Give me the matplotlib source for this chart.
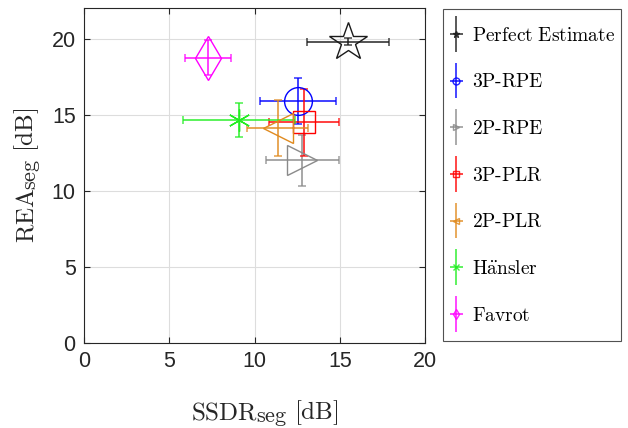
import matplotlib
matplotlib.use("Agg")
import matplotlib.pyplot as plt
from matplotlib.legend_handler import HandlerErrorbar

# Segmental SSDR / REA results per method (mean and standard deviation, dB)
methods = ["Perfect Estimate", "3P-RPE", "2P-RPE", "3P-PLR", "2P-PLR", "Hänsler", "Favrot"]
labels = [r"$\mathrm{Perfect\ Estimate}$", r"$\mathrm{3P}\text{-}\mathrm{RPE}$",
          r"$\mathrm{2P}\text{-}\mathrm{RPE}$", r"$\mathrm{3P}\text{-}\mathrm{PLR}$",
          r"$\mathrm{2P}\text{-}\mathrm{PLR}$", r"$\mathrm{H\ddot{a}nsler}$", r"$\mathrm{Favrot}$"]
ssdr_mean = [15.5, 12.55, 12.8, 12.9, 11.35, 9.1, 7.25]
ssdr_std = [2.4, 2.25, 2.15, 2.05, 1.77, 3.3, 1.35]
rea_mean = [19.8, 15.9, 12.0, 14.5, 14.1, 14.65, 18.75]
rea_std = [0.25, 1.5, 1.68, 2.2, 1.83, 1.13, 1.17]

colors = ["#1a1a1a", "#0000ff", "#8a8a8a", "#ff0000", "#e08a1e", "#22ee22", "#ff00ff"]
markers = ["*", "o", ">", "s", "<", (6, 2, 0), "d"]
msizes = [29, 20, 21, 16, 21, 16, 22]

plt.rcParams["mathtext.fontset"] = "cm"


class CenteredErrorbarHandler(HandlerErrorbar):
    """Errorbar legend handle centred on the label text rather than the tall handle box."""

    def __init__(self, shift=0.0, **kw):
        super().__init__(**kw)
        self._shift = shift

    def create_artists(self, legend, orig_handle, xdescent, ydescent, width, height,
                       fontsize, trans):
        d = self._shift * fontsize
        return super().create_artists(legend, orig_handle, xdescent, ydescent + 2 * d,
                                      width, height, fontsize, trans)


W, H = 628, 428
fig = plt.figure(figsize=(W / 100, H / 100), dpi=100)
ax = fig.add_axes([0.1338, 0.199, 0.543, 0.782])

handles = []
for i in range(len(methods)):
    ax.errorbar(ssdr_mean[i], rea_mean[i], xerr=ssdr_std[i], yerr=rea_std[i],
                fmt="none", ecolor=colors[i], elinewidth=1.4, capsize=3,
                capthick=1.2, alpha=0.75, zorder=2)
    ax.plot(ssdr_mean[i], rea_mean[i], linestyle="none", marker=markers[i],
            markersize=msizes[i], markerfacecolor="none", markeredgecolor=colors[i],
            markeredgewidth=1.0, zorder=3)
    proxy = ax.errorbar([], [], xerr=[], yerr=[], fmt=markers[i] if i != 5 else "x",
                        color=colors[i], markersize=5, markerfacecolor="none",
                        ecolor=colors[i], elinewidth=1.2, capsize=3, capthick=1.2,
                        alpha=0.85)
    handles.append(proxy)

ax.set_xlim(0, 20)
ax.set_ylim(0, 22)
ax.set_xticks([0, 5, 10, 15, 20])
ax.set_yticks([0, 5, 10, 15, 20])
ax.grid(True, color="#dddddd", linewidth=0.8)
ax.set_axisbelow(True)
ax.tick_params(direction="in", top=True, right=True, length=4, width=0.8,
               labelsize=15.5, colors="#262626", pad=6)
for lab in ax.get_xticklabels() + ax.get_yticklabels():
    lab.set_fontfamily("Liberation Sans")
for sp in ax.spines.values():
    sp.set_color("#262626")
    sp.set_linewidth(0.8)

# Axis labels with a near full-size "seg" subscript, built from chained text pieces
lab_col = "#262626"
main_fs, sub_fs = 18, 16

# x label: SSDR_seg [dB]
tx1 = fig.text(191 / W, 1 - 419 / H, r"$\mathrm{SSDR}$", fontsize=main_fs,
               ha="left", va="baseline", color=lab_col)
tx2 = ax.annotate(r"$\mathrm{seg}$", xy=(1, 1 - 421.5 / H), xycoords=(tx1, "figure fraction"),
                  xytext=(-1.5, 0), textcoords="offset points",
                  fontsize=sub_fs, ha="left", va="baseline", color=lab_col,
                  annotation_clip=False)
tx3 = ax.annotate(r"$\mathrm{[dB]}$", xy=(1, 1 - 419 / H), xycoords=(tx2, "figure fraction"),
                  xytext=(4.5, 0), textcoords="offset points", fontsize=main_fs,
                  ha="left", va="baseline", color=lab_col, annotation_clip=False)

# y label: REA_seg [dB]
ty1 = fig.text(33 / W, 1 - 243 / H, r"$\mathrm{REA}$", fontsize=main_fs, rotation=90,
               rotation_mode="anchor", ha="left", va="baseline", color=lab_col)
ty2 = ax.annotate(r"$\mathrm{seg}$", xy=(35.5 / W, 1), xycoords=("figure fraction", ty1),
                  xytext=(0, -1.5), textcoords="offset points",
                  fontsize=sub_fs, rotation=90, rotation_mode="anchor",
                  ha="left", va="baseline", color=lab_col, annotation_clip=False)
ty3 = ax.annotate(r"$\mathrm{[dB]}$", xy=(33 / W, 1), xycoords=("figure fraction", ty2),
                  xytext=(0, 4.5), textcoords="offset points", fontsize=main_fs,
                  rotation=90, rotation_mode="anchor", ha="left", va="baseline",
                  color=lab_col, annotation_clip=False)

leg = fig.legend(handles, labels, loc="upper left", bbox_to_anchor=(443 / W, 1 - 9 / H),
                 fontsize=14, frameon=True, fancybox=False, edgecolor="#262626",
                 labelspacing=0.4, handlelength=0.7, handleheight=2.7, handletextpad=0.45,
                 borderpad=0.33, borderaxespad=0,
                 handler_map={type(handles[0]): CenteredErrorbarHandler(
                     shift=0.3, xerr_size=0.33, yerr_size=0.92)})
leg.get_frame().set_linewidth(0.8)

fig.savefig("out.png", dpi=100)
